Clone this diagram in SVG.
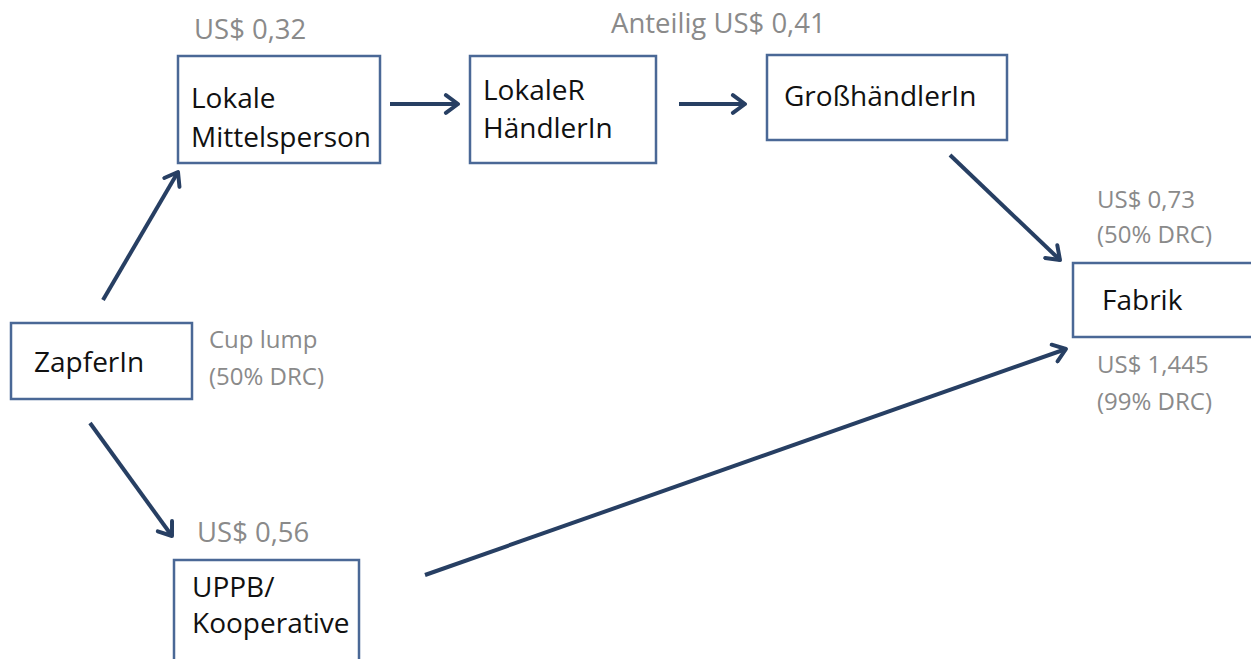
<svg xmlns="http://www.w3.org/2000/svg" width="1251" height="659" viewBox="0 0 1251 659">
<defs>
<style>
.box{fill:#fff;stroke:#4a6896;stroke-width:2.5}
.t{font-family:"Open Sans","Liberation Sans",sans-serif;font-size:28px;fill:#111}
.g{font-family:"Open Sans","Liberation Sans",sans-serif;font-size:27.5px;fill:#8a8a8a}
.s{font-family:"Open Sans","Liberation Sans",sans-serif;font-size:24px;fill:#8a8a8a}
.c{stroke:#273f63;stroke-width:4;fill:none;marker-end:url(#ah)}
</style>
<marker id="ah" viewBox="0 0 10 10" refX="8" refY="5" markerWidth="5.5" markerHeight="5.5" orient="auto" markerUnits="strokeWidth">
<path d="M2.5,1 L8,5 L2.5,9" fill="none" stroke="#273f63" stroke-width="1.8" stroke-linecap="round" stroke-linejoin="round"/>
</marker>
</defs>
<rect width="1251" height="659" fill="#fff"/>
<g id="connectors">
<line class="c" x1="103" y1="300" x2="178" y2="172"/>
<line class="c" x1="390" y1="104" x2="458" y2="104"/>
<line class="c" x1="679" y1="104" x2="745" y2="104"/>
<line class="c" x1="950" y1="155" x2="1060" y2="260"/>
<line class="c" x1="90" y1="423" x2="172" y2="536"/>
<line class="c" x1="425" y1="575" x2="1066" y2="349"/>
</g>
<g id="lokale-mittelsperson">
<rect class="box" x="178" y="56" width="202" height="107"/>
<text class="t" x="191" y="108">Lokale</text>
<text class="t" x="191" y="147">Mittelsperson</text>
<text class="g" x="194" y="39">US$ 0,32</text>
</g>
<g id="lokaler-haendlerin">
<rect class="box" x="470" y="56" width="186" height="107"/>
<text class="t" x="483" y="100">LokaleR</text>
<text class="t" x="483" y="138">HändlerIn</text>
</g>
<g id="grosshaendlerin">
<rect class="box" x="767" y="55" width="240" height="85"/>
<text class="t" x="784" y="106">GroßhändlerIn</text>
<text class="g" x="611" y="33">Anteilig US$ 0,41</text>
</g>
<g id="fabrik">
<rect class="box" x="1073" y="263" width="190" height="74"/>
<text class="t" x="1102" y="310">Fabrik</text>
<text class="s" x="1097" y="208">US$ 0,73</text>
<text class="s" x="1097" y="243">(50% DRC)</text>
<text class="s" x="1097" y="373">US$ 1,445</text>
<text class="s" x="1097" y="410">(99% DRC)</text>
</g>
<g id="zapferin">
<rect class="box" x="11" y="323" width="181" height="76"/>
<text class="t" x="34" y="372">ZapferIn</text>
<text class="s" x="209" y="348">Cup lump</text>
<text class="s" x="209" y="385">(50% DRC)</text>
</g>
<g id="uppb">
<rect class="box" x="174" y="560" width="185" height="110"/>
<text class="t" x="192" y="597">UPPB/</text>
<text class="t" x="192" y="633">Kooperative</text>
<text class="g" x="197" y="542">US$ 0,56</text>
</g>
</svg>
